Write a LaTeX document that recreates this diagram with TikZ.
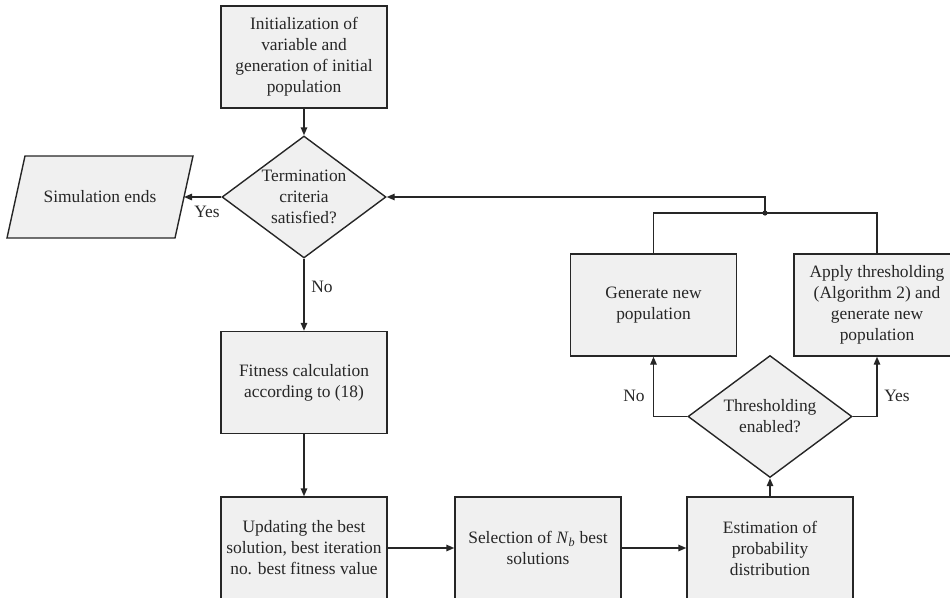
\documentclass[tikz,border=0pt]{standalone}
\usepackage{fontspec}
\setmainfont{Liberation Serif}
\usetikzlibrary{shapes.geometric,arrows.meta}
\definecolor{boxfill}{HTML}{F0F0F0}
\definecolor{linec}{HTML}{262626}
\newcommand\dfont{\fontsize{17.4pt}{21pt}\selectfont}
\begin{document}
\begin{tikzpicture}[x=1pt,y=-1pt,
  box/.style={draw=linec,fill=boxfill,line width=1.4pt,minimum width=166pt,minimum height=102pt,inner sep=0pt,align=center,font=\dfont,text=linec},
  dia/.style={shape=diamond,draw=linec,fill=boxfill,line width=1.4pt,minimum width=164pt,minimum height=122pt,inner sep=0pt},
  txt/.style={align=center,font=\dfont,text=linec,inner sep=0pt},
  conn/.style={draw=linec,line width=1.4pt},
  arr/.style={conn,-{Triangle[length=8pt,width=6.5pt]}}]
\useasboundingbox (0,0) rectangle (950,597);
\clip (0,0) rectangle (950,597);

% nodes
\node[box] (init) at (304,57) {Initialization of\\variable and\\generation of initial\\population};
\node[dia] (d1) at (304,197) {};
\node[txt] (d1t) at (d1.center) {Termination\\criteria\\satisfied?};
\path[conn,fill=boxfill] (25,156) -- (193,156) -- (175,238) -- (7,238) -- cycle;
\node[txt] (sim) at (100,197) {Simulation ends};
\coordinate (simR) at (184,197);
\node[box] (fit) at (304,382.5) {Fitness calculation\\according to (18)};
\node[box] (upd) at (304,548) {Updating the best\\solution, best iteration\\no. best fitness value};
\node[box] (sel) at (538,548) {Selection of \textit{N}\textsubscript{\textit{b}} best\\solutions};
\node[box] (est) at (770,548) {Estimation of\\probability\\distribution};
\node[dia] (d2) at (770,416.5) {};
\node[txt] (d2t) at (d2.center) {Thresholding\\enabled?};
\node[box] (gen) at (653.5,305) {Generate new\\population};
\node[box] (app) at (877,305) {Apply thresholding\\(Algorithm 2) and\\generate new\\population};
\coordinate (jn) at (765,213);

% connectors
\draw[arr] (init.south) -- (d1.north);
\draw[arr] (d1.west) -- (simR);
\draw[arr] (d1.south) -- (fit.north);
\draw[arr] (fit.south) -- (upd.north);
\draw[arr] (upd.east) -- (sel.west);
\draw[arr] (sel.east) -- (est.west);
\draw[arr] (est.north) -- (d2.south);
\draw[arr] (d2.west) -| (gen.south);
\draw[arr] (d2.east) -| (app.south);
\draw[conn] (gen.north) |- (jn) -| (app.north);
\fill[linec] (jn) circle (2.6pt);
\draw[arr] (jn) |- (d1.east);

% labels
\node[txt] (lyes1) at (207,212) {Yes};
\node[txt] (lno1) at (322,287) {No};
\node[txt] (lno2) at (634,396) {No};
\node[txt] (lyes2) at (897,396) {Yes};
\end{tikzpicture}
\end{document}
